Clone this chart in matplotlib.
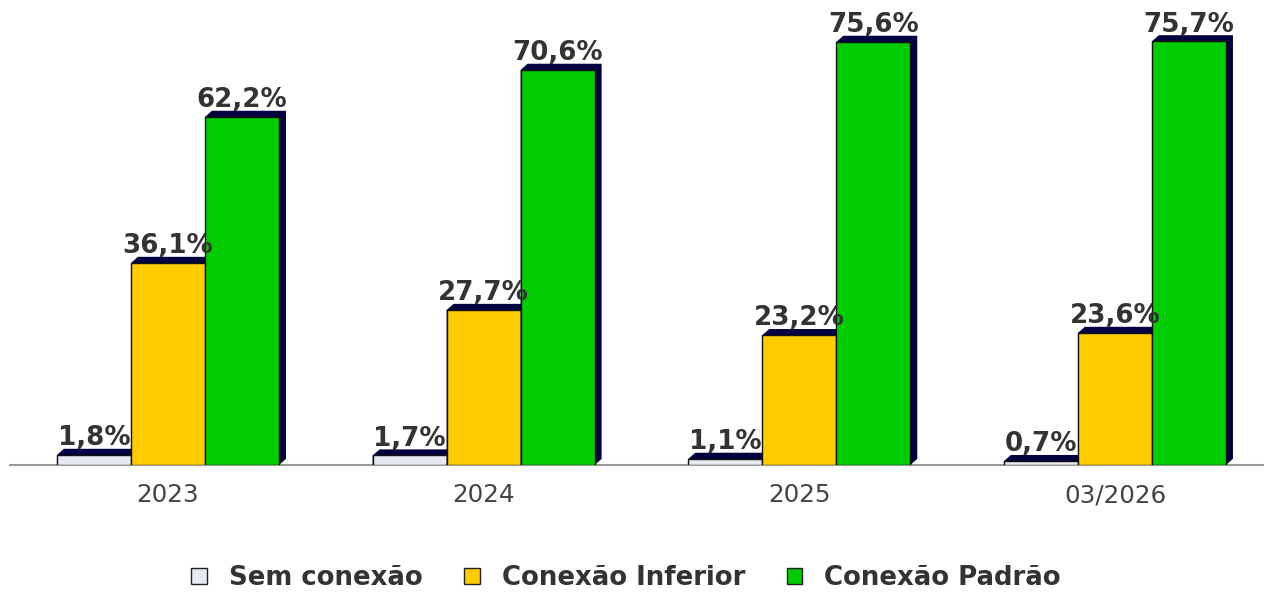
import matplotlib
matplotlib.use("Agg")
import matplotlib.pyplot as plt
import numpy as np
from matplotlib.patheffects import AbstractPathEffect, Normal
from matplotlib.path import Path
from matplotlib.transforms import Affine2D
from matplotlib.patches import Patch
from matplotlib.colors import to_rgba

plt.rcParams["font.family"] = ["DejaVu Sans"]

categories = ["2023", "2024", "2025", "03/2026"]
series_names = ["Sem conexão", "Conexão Inferior", "Conexão Padrão"]
sem_conexao = [1.8, 1.7, 1.1, 0.7]
conexao_inferior = [36.1, 27.7, 23.2, 23.6]
conexao_padrao = [62.2, 70.6, 75.6, 75.7]
colors = ["#E8EAF2", "#FFCC00", "#00CC00"]
shadow_color = "#000040"


class Extrude(AbstractPathEffect):
    def __init__(self, dx=5.0, dy=4.4, color=shadow_color):
        super().__init__()
        self.dx = dx
        self.dy = dy
        self.color = to_rgba(color)

    def draw_path(self, renderer, gc, tpath, affine, rgbFace=None):
        v = affine.transform(tpath.vertices)
        x0, y0 = v[:, 0].min(), v[:, 1].min()
        x1, y1 = v[:, 0].max(), v[:, 1].max()
        dx = renderer.points_to_pixels(self.dx)
        dy = renderer.points_to_pixels(self.dy)
        poly = [(x0, y0), (x1, y0), (x1 + dx, y0 + dy), (x1 + dx, y1 + dy),
                (x0 + dx, y1 + dy), (x0, y1), (x0, y0)]
        gc0 = renderer.new_gc()
        gc0.copy_properties(gc)
        gc0.set_linewidth(0)
        gc0.set_foreground(self.color)
        renderer.draw_path(gc0, Path(poly, closed=True), Affine2D(), self.color)
        gc0.restore()


fig = plt.figure(figsize=(12.73, 5.93), dpi=100)
ax = fig.add_axes([10 / 1273, (593 - 465) / 593, 1253 / 1273, 455 / 593])

x = np.arange(len(categories))
w = 0.2345
data = [sem_conexao, conexao_inferior, conexao_padrao]
for i, (vals, c) in enumerate(zip(data, colors)):
    bars = ax.bar(x + (i - 1) * w, vals, w, color=c, edgecolor="#111111",
                  linewidth=1.0, zorder=3 + i,
                  path_effects=[Extrude(), Normal()])
    for b, v in zip(bars, vals):
        ax.annotate(f"{v:.1f}%".replace(".", ","),
                    (b.get_x() + b.get_width() / 2, b.get_height()),
                    xytext=(0, 7), textcoords="offset points",
                    ha="center", va="baseline", fontsize=18.8,
                    fontweight="bold", color="#333333", zorder=10)

ax.set_xlim(-0.5005, 3.469)
ax.set_ylim(0, 455 / 5.597)
for s in ["top", "right", "left"]:
    ax.spines[s].set_visible(False)
ax.spines["bottom"].set_color("#999999")
ax.spines["bottom"].set_linewidth(1.5)
ax.set_yticks([])
ax.set_xticks(x)
ax.set_xticklabels(categories, fontsize=17.7, color="#444444")
ax.tick_params(axis="x", length=0, pad=13)

handles = [Patch(facecolor=c, edgecolor="#222222", linewidth=1.0) for c in colors]
leg = fig.legend(handles, series_names, loc="center", bbox_to_anchor=(626 / 1273, 1 - 578 / 593),
                 ncol=3, frameon=False, handlelength=0.6, handleheight=0.6,
                 handletextpad=0.85, columnspacing=1.6,
                 prop={"weight": "bold", "size": 18.7})
for t in leg.get_texts():
    t.set_color("#333333")

fig.savefig("out.png", dpi=100)
